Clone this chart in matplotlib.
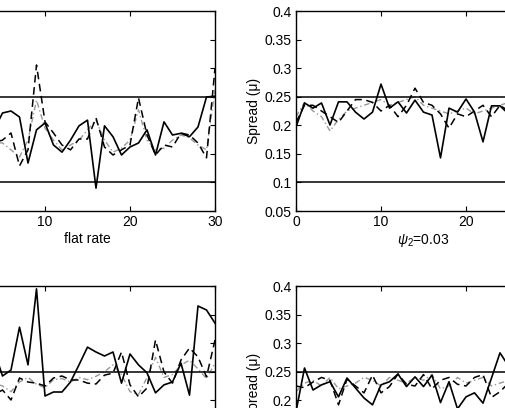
import numpy as np
import matplotlib
matplotlib.use('Agg')
import matplotlib.pyplot as plt

plt.rcParams['font.family'] = ['Liberation Sans', 'DejaVu Sans']
plt.rcParams['font.size'] = 10
plt.rcParams['mathtext.fontset'] = 'custom'
plt.rcParams['mathtext.it'] = 'Liberation Sans:italic'
plt.rcParams['mathtext.rm'] = 'Liberation Sans'

# Spread values, one point per period 0..30
t_full = np.arange(31)

# top left (flat rate)
tl_solid = [0.20, 0.21, 0.19, 0.20, 0.192, 0.2215, 0.225, 0.2145, 0.134, 0.192,
            0.204, 0.1655, 0.153, 0.174, 0.199, 0.209, 0.090, 0.199, 0.180, 0.148,
            0.162, 0.169, 0.192, 0.148, 0.206, 0.183, 0.186, 0.180, 0.197, 0.2495, 0.251]
tl_dash = [0.19, 0.20, 0.18, 0.19, 0.17, 0.174, 0.1865, 0.129, 0.157, 0.3055,
           0.206, 0.1865, 0.1655, 0.157, 0.176, 0.176, 0.213, 0.162, 0.148, 0.157,
           0.1655, 0.248, 0.183, 0.148, 0.1655, 0.162, 0.1865, 0.183, 0.169, 0.143, 0.30]
tl_dot = [0.18, 0.19, 0.20, 0.18, 0.17, 0.169, 0.157, 0.1445, 0.174, 0.244,
          0.195, 0.174, 0.157, 0.1655, 0.174, 0.192, 0.209, 0.174, 0.153, 0.160,
          0.174, 0.227, 0.174, 0.157, 0.160, 0.174, 0.183, 0.178, 0.1655, 0.157, 0.262]

# top right (psi_2 = 0.03)
tr_solid = [0.197, 0.239, 0.230, 0.239, 0.2005, 0.241, 0.241, 0.223, 0.211, 0.223,
            0.272, 0.230, 0.241, 0.2215, 0.244, 0.223, 0.218, 0.143, 0.230, 0.223,
            0.246, 0.223, 0.171, 0.234, 0.234, 0.220, 0.23, 0.22, 0.24, 0.21, 0.23]
tr_dash = [0.205, 0.235, 0.235, 0.225, 0.215, 0.205, 0.225, 0.245, 0.245, 0.240,
           0.225, 0.235, 0.215, 0.235, 0.265, 0.240, 0.235, 0.220, 0.195, 0.220,
           0.215, 0.225, 0.235, 0.215, 0.235, 0.225, 0.23, 0.22, 0.23, 0.22, 0.23]
tr_dot = [0.215, 0.240, 0.225, 0.215, 0.190, 0.210, 0.225, 0.230, 0.235, 0.240,
          0.245, 0.235, 0.240, 0.245, 0.250, 0.235, 0.230, 0.225, 0.220, 0.225,
          0.230, 0.220, 0.225, 0.230, 0.235, 0.240, 0.23, 0.22, 0.23, 0.22, 0.23]

# bottom left
bl_solid = [0.25, 0.27, 0.24, 0.26, 0.288, 0.2425, 0.253, 0.328, 0.262, 0.395,
            0.2075, 0.2145, 0.2145, 0.232, 0.262, 0.293, 0.2845, 0.2775, 0.2845, 0.230,
            0.281, 0.262, 0.248, 0.213, 0.227, 0.232, 0.265, 0.209, 0.365, 0.358, 0.335]
bl_dash = [0.23, 0.22, 0.24, 0.23, 0.21, 0.218, 0.2005, 0.239, 0.232, 0.230,
           0.225, 0.239, 0.2425, 0.2355, 0.2355, 0.230, 0.2285, 0.244, 0.2475, 0.2845,
           0.227, 0.206, 0.2215, 0.3055, 0.2495, 0.230, 0.2705, 0.2915, 0.276, 0.241, 0.3055]
bl_dot = [0.22, 0.23, 0.22, 0.24, 0.23, 0.225, 0.215, 0.232, 0.240, 0.228,
          0.222, 0.236, 0.238, 0.232, 0.240, 0.236, 0.242, 0.250, 0.262, 0.245,
          0.215, 0.210, 0.240, 0.275, 0.240, 0.245, 0.262, 0.270, 0.255, 0.238, 0.265]

# bottom right
br_solid = [0.18, 0.2565, 0.218, 0.227, 0.2325, 0.206, 0.239, 0.2215, 0.204, 0.192,
            0.227, 0.2325, 0.246, 0.224, 0.241, 0.224, 0.244, 0.196, 0.2325, 0.185,
            0.206, 0.213, 0.195, 0.239, 0.283, 0.26, 0.23, 0.22, 0.24, 0.21, 0.23]
br_dash = [0.225, 0.222, 0.232, 0.240, 0.235, 0.192, 0.237, 0.225, 0.213, 0.244,
           0.213, 0.224, 0.246, 0.228, 0.225, 0.245, 0.220, 0.235, 0.240, 0.228,
           0.225, 0.240, 0.245, 0.205, 0.215, 0.230, 0.22, 0.23, 0.22, 0.23, 0.22]
br_dot = [0.215, 0.230, 0.235, 0.225, 0.240, 0.220, 0.225, 0.230, 0.240, 0.235,
          0.225, 0.240, 0.235, 0.230, 0.240, 0.235, 0.245, 0.220, 0.225, 0.240,
          0.230, 0.235, 0.240, 0.225, 0.230, 0.235, 0.23, 0.22, 0.23, 0.22, 0.23]

upper_bound = 0.25
lower_bound = 0.1
y_ticks = [0.05, 0.1, 0.15, 0.2, 0.25, 0.3, 0.35, 0.4]
y_tick_labels = ['0.05', '0.1', '0.15', '0.2', '0.25', '0.3', '0.35', '0.4']
x_ticks = [0, 10, 20, 30]
x_tick_labels = ['0', '10', '20', '30']

W, H = 505, 408
fig = plt.figure(figsize=(W / 100, H / 100), dpi=100)


def px_axes(left, top, width=255, height=200):
    return fig.add_axes([left / W, 1 - (top + height) / H, width / W, height / H])


def draw_panel(ax, solid, dash, dot, xlabels=None, ylabels=None, xlabel=None, ylabel=None):
    ax.plot(t_full, dot, color='0.6', lw=1.0, ls=(0, (4, 2, 1, 2)))
    ax.plot(t_full, dash, color='black', lw=1.1, ls=(0, (5, 3)))
    ax.plot(t_full, solid, color='black', lw=1.2)
    ax.axhline(upper_bound, color='black', lw=1.1)
    ax.axhline(lower_bound, color='black', lw=1.1)
    ax.set_xlim(0, 30)
    ax.set_ylim(0.05, 0.4)
    ax.set_xticks(x_ticks)
    ax.set_yticks(y_ticks)
    # only the labels that fall inside the cropped picture are drawn
    ax.set_xticklabels(xlabels if xlabels is not None else [''] * len(x_ticks))
    ax.set_yticklabels(ylabels if ylabels is not None else [''] * len(y_ticks))
    ax.tick_params(direction='in', top=True, right=True, length=3.5, width=0.8, pad=3)
    for s in ax.spines.values():
        s.set_linewidth(1.0)
    if xlabel:
        ax.set_xlabel(xlabel, labelpad=2)
    if ylabel:
        ax.set_ylabel(ylabel, labelpad=3)


ax1 = px_axes(-40, 11)
draw_panel(ax1, tl_solid, tl_dash, tl_dot,
           xlabels=['', '10', '20', '30'], xlabel='flat rate')
ax2 = px_axes(296, 11)
draw_panel(ax2, tr_solid, tr_dash, tr_dot, xlabels=['0', '10', '20', ''],
           ylabels=y_tick_labels, xlabel=r'$\psi_2$=0.03', ylabel='Spread (μ)')
ax3 = px_axes(-40, 286)
draw_panel(ax3, bl_solid, bl_dash, bl_dot)
ax4 = px_axes(296, 286)
draw_panel(ax4, br_solid, br_dash, br_dot, ylabels=y_tick_labels, ylabel='Spread (μ)')

fig.savefig('out.png', dpi=100)
